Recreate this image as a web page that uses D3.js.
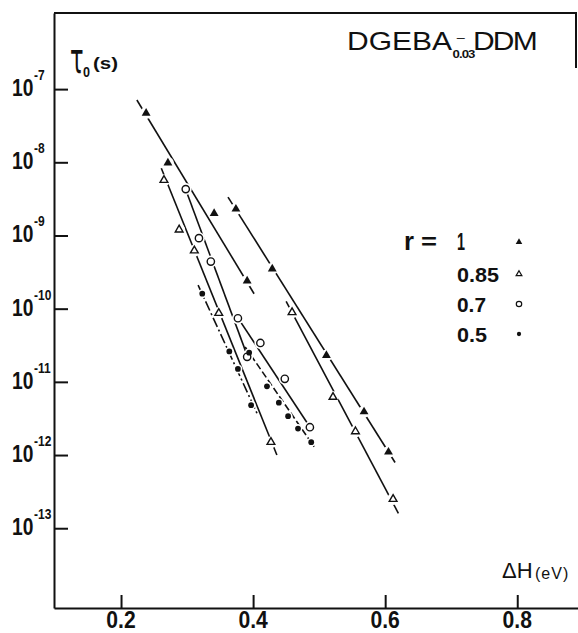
<!DOCTYPE html>
<html>
<head>
<meta charset="utf-8">
<script src="https://cdn.jsdelivr.net/npm/d3@7"></script>
<style>
body { margin: 0; background: #fff; }
svg { display: block; }
</style>
</head>
<body>
<div id="chart"></div>
<script>
// tau0 (s) against dH (eV) for DGEBA-DDM, log scale on tau

var xTicks = [0.2, 0.4, 0.6, 0.8]
var yExponents = [-7, -8, -9, -10, -11, -12, -13]

var rLabels = ["1", "0.85", "0.7", "0.5"]

// measured points, [dH, tau]
var pointsR1 = [[0.238,4.7e-8],[0.271,9.8e-9],[0.341,2.0e-9],[0.374,2.3e-9],[0.391,2.4e-10],
                [0.429,3.5e-10],[0.511,2.3e-11],[0.568,3.9e-12],[0.605,1.1e-12]]
var pointsR085 = [[0.265,5.7e-9],[0.288,1.2e-9],[0.311,6.2e-10],[0.348,8.7e-11],[0.427,1.5e-12],
                  [0.459,8.9e-11],[0.521,6.2e-12],[0.555,2.1e-12],[0.612,2.5e-13]]
var pointsR07 = [[0.298,4.3e-9],[0.318,9.2e-10],[0.336,4.4e-10],[0.377,7.4e-11],[0.391,2.2e-11],
                 [0.411,3.4e-11],[0.448,1.1e-11],[0.486,2.4e-12]]
var pointsR05 = [[0.323,1.6e-10],[0.364,2.6e-11],[0.377,1.5e-11],[0.397,4.8e-12],[0.394,2.5e-11],
                 [0.421,8.7e-12],[0.439,5.2e-12],[0.453,3.4e-12],[0.468,2.3e-12],[0.488,1.5e-12]]

// fitted straight lines, two ends each
var fitsR1 = [[[0.224,7.1e-8],[0.4015,1.6e-10]], [[0.362,3.35e-9],[0.615,7.9e-13]]]
var fitsR085 = [[[0.261,8.3e-9],[0.436,1.0e-12]], [[0.45,1.26e-10],[0.62,1.6e-13]]]
var fitsR07 = [[[0.295,5.0e-9],[0.391,2.3e-11]], [[0.373,8.5e-11],[0.489,2.2e-12]]]
var fitsR05 = [[[0.3167,2.1e-10],[0.406,3.7e-12]], [[0.388,3.0e-11],[0.4924,1.3e-12]]]

var W = 578, H = 633
// no narrow font here, so bold text is squeezed with a scale
var font = "'Liberation Sans',Arial,sans-serif"

var svg = d3.select("#chart").append("svg").attr("width", W).attr("height", H)

var x = d3.scaleLinear().domain([0.0985, 0.892]).range([54, 578])
var y = d3.scaleLog().domain([Math.pow(10,-14.09), Math.pow(10,-5.96)]).range([608, 13])

function squeeze(sel, w) {
    return sel.attr("textLength", w).attr("lengthAdjust", "spacingAndGlyphs")
}

// axes, ticks point inward
var yAxis = d3.axisLeft(y).tickValues(yExponents.map(function(e){return Math.pow(10,e)}))
    .tickSize(-14).tickSizeOuter(0).tickFormat("")
var xAxis = d3.axisBottom(x).tickValues(xTicks).tickSize(-13).tickSizeOuter(0).tickFormat("")

svg.append("g").attr("transform", "translate(54,0)").call(yAxis)
svg.append("g").attr("transform", "translate(0,608)").call(xAxis)
svg.selectAll(".domain, .tick line").attr("stroke", "#111").attr("stroke-width", 2)

// frame on top and stub on the right
svg.append("path")
    .attr("d", "M" + x.range()[0] + "," + y.range()[1] + "H576V68")
    .attr("fill", "none").attr("stroke", "#111").attr("stroke-width", 2)

// y tick labels: 10 with exponent, one text each
var ylab = svg.append("g").attr("fill", "#111").attr("font-family", font).attr("font-weight", "bold")
yExponents.forEach(function(e) {
    var t = ylab.append("text")
        .attr("transform", "translate(12," + (y(Math.pow(10, e)) + 7) + ") scale(0.8,1)")
    t.append("tspan").attr("x", 0).attr("y", 0).attr("font-size", 24).text("10")
    t.append("tspan").attr("x", 27.5).attr("y", -16).attr("font-size", 15).text("-" + (-e))
})

// x tick labels
svg.append("g").attr("fill", "#111").attr("font-family", font).attr("font-weight", "bold")
    .selectAll("text").data(xTicks).enter().append("text")
    .attr("transform", function(d){return "translate(" + x(d) + ",628) scale(0.88,1)"})
    .attr("text-anchor", "middle").attr("font-size", 24)
    .text(function(d){return d3.format(".1f")(d)})

// axis titles
var tl = svg.append("g").attr("fill", "#111")
tl.append("text").attr("transform", "translate(70,73) scale(0.75,1.4)")
    .attr("font-family", "'DejaVu Sans',sans-serif").attr("font-size", 30).text("τ")
squeeze(tl.append("text").attr("x", 83).attr("y", 77).attr("font-family", font).attr("font-weight", "bold")
    .attr("font-size", 15).text("0"), 7)
squeeze(tl.append("text").attr("x", 93).attr("y", 69).attr("font-family", font).attr("font-weight", "bold")
    .attr("font-size", 16).text("(s)"), 25)

var dh = tl.append("text").attr("transform", "translate(502,578)").attr("font-family", font)
dh.append("tspan").attr("font-size", 22).text("ΔH")
dh.append("tspan").attr("x", 33).attr("y", 1).attr("font-size", 16).attr("letter-spacing", 1).text("(eV)")

// title DGEBA-DDM with 0.03 under the dash
var title = tl.append("text").attr("transform", "translate(347,50) scale(1.2,1)").attr("font-family", font)
title.append("tspan").attr("x", 0).attr("y", 0).attr("font-size", 25).text("DGEBA")
title.append("tspan").attr("x", 91.5).attr("y", -8).attr("font-size", 12).text("–")
title.append("tspan").attr("x", 88).attr("y", 8).attr("font-size", 11).attr("font-weight", "bold")
    .attr("letter-spacing", -0.8).text("0.03")
title.append("tspan").attr("x", 105).attr("y", 0).attr("font-size", 25).attr("letter-spacing", -1.5).text("DDM")

// symbols
var symbolOf = {
    "1":    {type: d3.symbolTriangle, size: 34, fill: "#111", stroke: "none"},
    "0.85": {type: d3.symbolTriangle, size: 26, fill: "#fff", stroke: "#111"},
    "0.7":  {type: d3.symbolCircle, size: 42, fill: "#fff", stroke: "#111"},
    "0.5":  {type: d3.symbolCircle, size: 26, fill: "#111", stroke: "none"}
}

var series = [
    {r: "1", pts: pointsR1, fits: fitsR1, dash: null},
    {r: "0.85", pts: pointsR085, fits: fitsR085, dash: null},
    {r: "0.7", pts: pointsR07, fits: fitsR07, dash: null},
    {r: "0.5", pts: pointsR05, fits: fitsR05, dash: ["10,3,2,3", "7,3"]}
]

var line = d3.line().x(function(d){return x(d[0])}).y(function(d){return y(d[1])})

var gl = svg.append("g").attr("fill", "none").attr("stroke", "#111").attr("stroke-width", 1.6)
series.forEach(function(s) {
    s.fits.forEach(function(f, i) {
        gl.append("path").attr("d", line(f))
            .attr("stroke-dasharray", s.dash ? s.dash[i] : null)
    })
})

// white halos break the lines around the markers
var gh = svg.append("g").attr("fill", "#fff")
series.forEach(function(s) {
    gh.selectAll(null).data(s.pts).enter().append("circle")
        .attr("cx", function(d){return x(d[0])}).attr("cy", function(d){return y(d[1])})
        .attr("r", s.r == "0.5" ? 4.5 : 6)
})

var gm = svg.append("g")
series.forEach(function(s) {
    var sym = symbolOf[s.r]
    gm.selectAll(null).data(s.pts).enter().append("path")
        .attr("d", d3.symbol().type(sym.type).size(sym.size))
        .attr("transform", function(d){return "translate(" + x(d[0]) + "," + y(d[1]) + ")"})
        .attr("fill", sym.fill).attr("stroke", sym.stroke).attr("stroke-width", 1.4)
})

// legend
var lg = svg.append("g").attr("fill", "#111").attr("font-family", font).attr("font-weight", "bold")
var rowY = [250, 282, 312, 342]
var rowW = [8, 42, 29, 30]
squeeze(lg.append("text").attr("x", 404).attr("y", rowY[0]).attr("font-size", 26).text("r"), 10)
squeeze(lg.append("text").attr("x", 421).attr("y", rowY[0] - 1).attr("font-size", 22).text("="), 16)
rLabels.forEach(function(r, i) {
    squeeze(lg.append("text").attr("x", 457).attr("y", rowY[i]).attr("font-size", i == 0 ? 24 : 21)
        .text(r), rowW[i])
    var sym = symbolOf[r]
    lg.append("path").attr("d", d3.symbol().type(sym.type).size(sym.size * 0.55))
        .attr("transform", "translate(519," + (rowY[i] - 8) + ")")
        .attr("fill", sym.fill).attr("stroke", sym.stroke).attr("stroke-width", 1.2)
})
</script>
</body>
</html>
